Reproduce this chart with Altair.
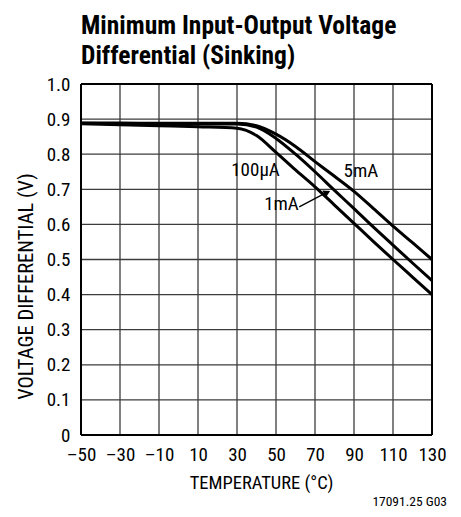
import altair as alt
import pandas as pd

temps = [-50, -30, -10, 10, 30, 40, 50, 60, 70, 80, 90, 100, 110, 120, 130]
v_100uA = [0.887, 0.884, 0.881, 0.878, 0.874, 0.853, 0.805, 0.755, 0.707, 0.655, 0.603, 0.551, 0.500, 0.450, 0.400]
v_1mA = [0.888, 0.887, 0.887, 0.886, 0.886, 0.877, 0.845, 0.800, 0.750, 0.697, 0.645, 0.592, 0.541, 0.490, 0.440]
v_5mA = [0.889, 0.889, 0.888, 0.888, 0.888, 0.881, 0.857, 0.822, 0.779, 0.737, 0.694, 0.645, 0.595, 0.548, 0.500]

x_ticks = [-50, -30, -10, 10, 30, 50, 70, 90, 110, 130]
y_ticks = [0, 0.1, 0.2, 0.3, 0.4, 0.5, 0.6, 0.7, 0.8, 0.9, 1.0]
x_edges = [-50, 130]
y_edges = [0, 1.0]

label_text = ["100µA", "5mA", "1mA"]
label_t = [39.5, 93.5, 52.8]
label_v = [0.755, 0.752, 0.657]

arrow_t = [61.9, 77.0]
arrow_v = [0.650, 0.694]
head_t = [76.2]
head_v = [0.691]

FONT = "Roboto Condensed"
GRID = "#3c3c3c"

rows = []
for name, vals in [("100µA", v_100uA), ("1mA", v_1mA), ("5mA", v_5mA)]:
    for t, v in zip(temps, vals):
        rows.append({"series": name, "temp": t, "v": v})
df = pd.DataFrame(rows)

xscale = alt.Scale(domain=[-50, 130], nice=False, zero=False)
yscale = alt.Scale(domain=[0, 1], nice=False)

x_axis = alt.Axis(
    values=x_ticks,
    tickCount=len(x_ticks),
    labelExpr="datum.value < 0 ? '\u2013' + abs(datum.value) : '' + datum.value",
    labelOverlap=False,
    labelFlush=False,
    title="TEMPERATURE (°C)",
    grid=False,
    ticks=False,
    domain=False,
    labelPadding=10,
    labelFontSize=19,
    titleFontSize=18.5,
    titleFontWeight="normal",
    titleX=180,
    titleY=47,
    titleAlign="center",
    titleBaseline="middle",
)
y_axis = alt.Axis(
    values=y_ticks,
    tickCount=len(y_ticks),
    labelExpr="datum.value == 0 ? '0' : format(datum.value, '.1f')",
    labelOverlap=False,
    labelFlush=False,
    title="VOLTAGE DIFFERENTIAL (V)",
    grid=False,
    ticks=False,
    domain=False,
    labelPadding=11,
    labelFontSize=19,
    titleFontSize=20.5,
    titleFontWeight="normal",
    titleX=-55,
    titleY=202,
    titleAngle=270,
    titleAlign="center",
    titleBaseline="middle",
)

X = lambda: alt.X("temp:Q", scale=xscale, axis=x_axis)
Y = lambda: alt.Y("v:Q", scale=yscale, axis=y_axis)

vgrid = alt.Chart(pd.DataFrame({"temp": x_ticks})).mark_rule(color=GRID, strokeWidth=1.3).encode(x=X())
hgrid = alt.Chart(pd.DataFrame({"v": y_ticks})).mark_rule(color=GRID, strokeWidth=1.3).encode(y=Y())
vedge = alt.Chart(pd.DataFrame({"temp": x_edges})).mark_rule(color="black", strokeWidth=2).encode(x=X())
hedge = alt.Chart(pd.DataFrame({"v": y_edges})).mark_rule(color="black", strokeWidth=2).encode(y=Y())

lines = alt.Chart(df).mark_line(color="black", strokeWidth=3, interpolate="monotone").encode(
    x=X(), y=Y(), detail="series:N",
)

lab_df = pd.DataFrame({"text": label_text, "temp": label_t, "v": label_v})
labels = alt.Chart(lab_df).mark_text(fontSize=19, font=FONT, color="black", align="center", baseline="middle").encode(
    x=X(), y=Y(), text="text:N",
)

arr_df = pd.DataFrame({"temp": arrow_t, "v": arrow_v})
arrow = alt.Chart(arr_df).mark_line(color="black", strokeWidth=1.3).encode(x=X(), y=Y())
head_df = pd.DataFrame({"temp": head_t, "v": head_v})
head = alt.Chart(head_df).mark_point(shape="triangle-right", filled=True, color="black", opacity=1, size=60, angle=332).encode(
    x=X(), y=Y(),
)

foot = alt.Chart(pd.DataFrame({"t": ["17091.25 G03"]})).mark_text(
    fontSize=13.5, font=FONT, color="black", align="right", baseline="middle"
).encode(x=alt.value(366), y=alt.value(418), text="t:N")

chart = alt.layer(vgrid, hgrid, vedge, hedge, lines, arrow, head, labels, foot).properties(
    width=351,
    height=351,
    background="white",
    title=alt.TitleParams(
        text=["Minimum Input-Output Voltage", "Differential (Sinking)"],
        anchor="start",
        frame="group",
        fontSize=25.5,
        fontWeight="bold",
        font=FONT,
        color="black",
        lineHeight=30,
        offset=6,
    ),
    autosize=alt.AutoSizeParams(type="none"),
    padding={"left": 73, "top": 76, "right": 21, "bottom": 74},
).configure_view(stroke=None).configure_axis(
    labelFont=FONT, titleFont=FONT, labelColor="black", titleColor="black",
)

chart.save("out.html", embed_options={"renderer": "svg", "actions": False})
